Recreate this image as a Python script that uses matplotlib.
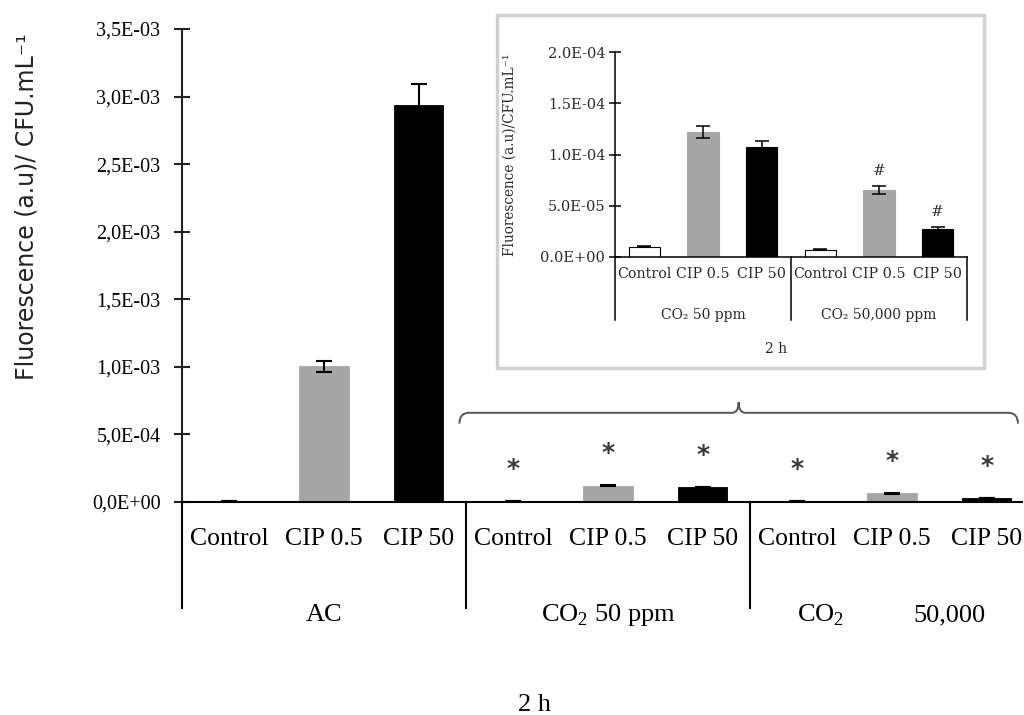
import matplotlib
matplotlib.use('Agg')
import matplotlib.pyplot as plt
from matplotlib.path import Path
from matplotlib.patches import PathPatch, Rectangle

plt.rcParams['font.family'] = ['Liberation Serif', 'DejaVu Serif']
plt.rcParams['mathtext.fontset'] = 'custom'
plt.rcParams['mathtext.rm'] = 'Liberation Serif'

# data, 2 h exposure
treatments = ['Control', 'CIP 0.5', 'CIP 50']
bar_colors = ['white', '#a6a6a6', 'black']

ac_mean = [1.0e-5, 1.003e-3, 2.935e-3]
ac_err = [1.0e-6, 4.2e-5, 1.6e-4]
low_mean = [9.8e-6, 1.22e-4, 1.073e-4]      # CO2 50 ppm
low_err = [5e-7, 5.8e-6, 5.5e-6]
high_mean = [7.2e-6, 6.5e-5, 2.76e-5]      # CO2 50,000 ppm
high_err = [4e-7, 3.9e-6, 1.7e-6]

main_ticks = [0, 5e-4, 1e-3, 1.5e-3, 2e-3, 2.5e-3, 3e-3, 3.5e-3]
inset_ticks = [0, 5e-5, 1e-4, 1.5e-4, 2e-4]
star_idx = [3, 4, 5, 6, 7, 8]   # significant vs AC
hash_idx = [4, 5]               # significant vs CO2 50 ppm (inset)

main_mean = ac_mean + low_mean + high_mean
main_err = ac_err + low_err + high_err
inset_mean = low_mean + high_mean
inset_err = low_err + high_err

W, H = 1024, 715
fig = plt.figure(figsize=(W / 100, H / 100), dpi=100)

# ---------------- main chart ----------------
ax = fig.add_axes([182 / W, 1 - 502 / H, 840 / W, 473 / H])
x = list(range(9))
colors = bar_colors * 3
ax.bar(x, main_mean, width=0.52, color=colors, edgecolor=['black' if c == 'white' else c for c in colors],
       linewidth=0.6, zorder=2)
ax.errorbar(x, main_mean, yerr=main_err, fmt='none', ecolor='black', elinewidth=1.5,
            capsize=6, capthick=1.5, zorder=3)
ax.set_xlim(-0.5, -0.5 + 840 / 94.67)
ax.set_ylim(0, 3.5e-3)
for s in ['top', 'right']:
    ax.spines[s].set_visible(False)
ax.spines['left'].set_linewidth(1.5)
ax.spines['left'].set_color('#222222')
ax.spines['bottom'].set_linewidth(1.5)
ax.set_yticks(main_ticks)
ax.set_yticklabels([f'{v:.1E}'.replace('.', ',') for v in main_ticks], fontsize=14.5)
ax.tick_params(axis='y', direction='inout', length=11, width=1.5, pad=10, color='#222222')
ax.set_xticks(x)
ax.set_xticklabels(treatments * 3, fontsize=18.5)
ax.tick_params(axis='x', length=0, pad=19)

tr = ax.get_xaxis_transform()
for sx in [-0.5, 2.5, 5.5]:
    ax.plot([sx, sx], [0, -0.224], transform=tr, color='black', lw=1.5, clip_on=False)
ax.text(1, -0.239, 'AC', transform=tr, ha='center', va='center', fontsize=19)
ax.text(4, -0.239, 'CO$_2$ 50 ppm', transform=tr, ha='center', va='center', fontsize=19)
ax.text(6.24, -0.239, 'CO$_2$', transform=tr, ha='center', va='center', fontsize=19)
ax.text(7.61, -0.239, '50,000', transform=tr, ha='center', va='center', fontsize=19)
fig.text(535 / W, 1 - 705 / H, '2 h', ha='center', va='center', fontsize=19)
fig.text(27 / W, 1 - 207 / H, 'Fluorescence (a.u)/ CFU.mL\u207b\u00b9', rotation=90,
         ha='center', va='center', fontsize=17, family='DejaVu Sans', color='#222222')

for i in star_idx:
    ax.annotate('*', (x[i], main_mean[i] + main_err[i]), xytext=(0, 23), textcoords='offset points',
                ha='center', va='center', fontsize=18, fontweight='bold', family='DejaVu Sans',
                color='#3a3a3a')

# brace over the CO2 groups
bl, br, bc = 2.43, 8.33, 5.38
yt, ye, ya = 6.6e-4, 5.8e-4, 7.4e-4
dx, dy = 0.1, 2.5e-5
verts = [(bl, ye), (bl, yt), (bl + dx, yt), (bc - 0.07, yt), (bc, yt), (bc, ya),
         (bc, yt), (bc + 0.07, yt), (br - dx, yt), (br, yt), (br, ye)]
codes = [Path.MOVETO, Path.CURVE3, Path.CURVE3, Path.LINETO, Path.CURVE3, Path.CURVE3,
         Path.CURVE3, Path.CURVE3, Path.LINETO, Path.CURVE3, Path.CURVE3]
ax.add_patch(PathPatch(Path(verts, codes), fill=False, edgecolor='#555555', lw=1.4, clip_on=False))

# ---------------- inset ----------------
fig.patches.append(Rectangle((497 / W, 1 - 368 / H), 487 / W, 353 / H, transform=fig.transFigure,
                             facecolor='white', edgecolor='#d0d0d0', lw=2.5, zorder=1.5))
ins = fig.add_axes([615 / W, 1 - 257 / H, 352 / W, 205 / H])
ins.set_zorder(2)
ins.patch.set_alpha(0)
xi = list(range(6))
ci = bar_colors * 2
ins.bar(xi, inset_mean, width=0.53, color=ci, edgecolor=['black' if c == 'white' else c for c in ci],
        linewidth=0.8, zorder=2)
ins.errorbar(xi, inset_mean, yerr=inset_err, fmt='none', ecolor='black', elinewidth=1.1,
             capsize=5, capthick=1.1, zorder=3)
ins.set_xlim(-0.5, 5.5)
ins.set_ylim(0, 2e-4)
for s in ['top', 'right']:
    ins.spines[s].set_visible(False)
ins.spines['left'].set_linewidth(1.1)
ins.spines['bottom'].set_linewidth(1.1)
ins.set_yticks(inset_ticks)
ins.set_yticklabels([f'{v:.1E}' for v in inset_ticks], fontsize=10.5, family='DejaVu Serif',
                    color='#2a2a2a')
ins.tick_params(axis='y', direction='inout', length=8, width=1.1, pad=3)
ins.set_xticks(xi)
ins.set_xticklabels(treatments * 2, fontsize=10.3, family='DejaVu Serif', color='#2a2a2a')
ins.tick_params(axis='x', length=0, pad=7)
ins.set_ylabel('Fluorescence (a.u)/CFU.mL\u207b\u00b9', fontsize=9.8, family='DejaVu Serif',
               color='#2a2a2a')
ins.yaxis.set_label_coords(-(615 - 517) / 352, 0.5)
tri = ins.get_xaxis_transform()
for sx in [-0.5, 2.5, 5.5]:
    ins.plot([sx, sx], [0, -0.307], transform=tri, color='black', lw=1.1, clip_on=False)
ins.text(1, -0.283, 'CO\u2082 50 ppm', transform=tri, ha='center', va='center', fontsize=10,
         family='DejaVu Serif', color='#2a2a2a')
ins.text(4, -0.283, 'CO\u2082 50,000 ppm', transform=tri, ha='center', va='center', fontsize=10,
         family='DejaVu Serif', color='#2a2a2a')
ins.text(2.25, -0.449, '2 h', transform=tri, ha='center', va='center', fontsize=10,
         family='DejaVu Serif', color='#2a2a2a')
for i in hash_idx:
    ins.annotate('#', (xi[i], inset_mean[i] + inset_err[i]), xytext=(0, 11), textcoords='offset points',
                 ha='center', va='center', fontsize=11, family='DejaVu Serif', color='#2a2a2a')

fig.savefig('out.png', dpi=100)
